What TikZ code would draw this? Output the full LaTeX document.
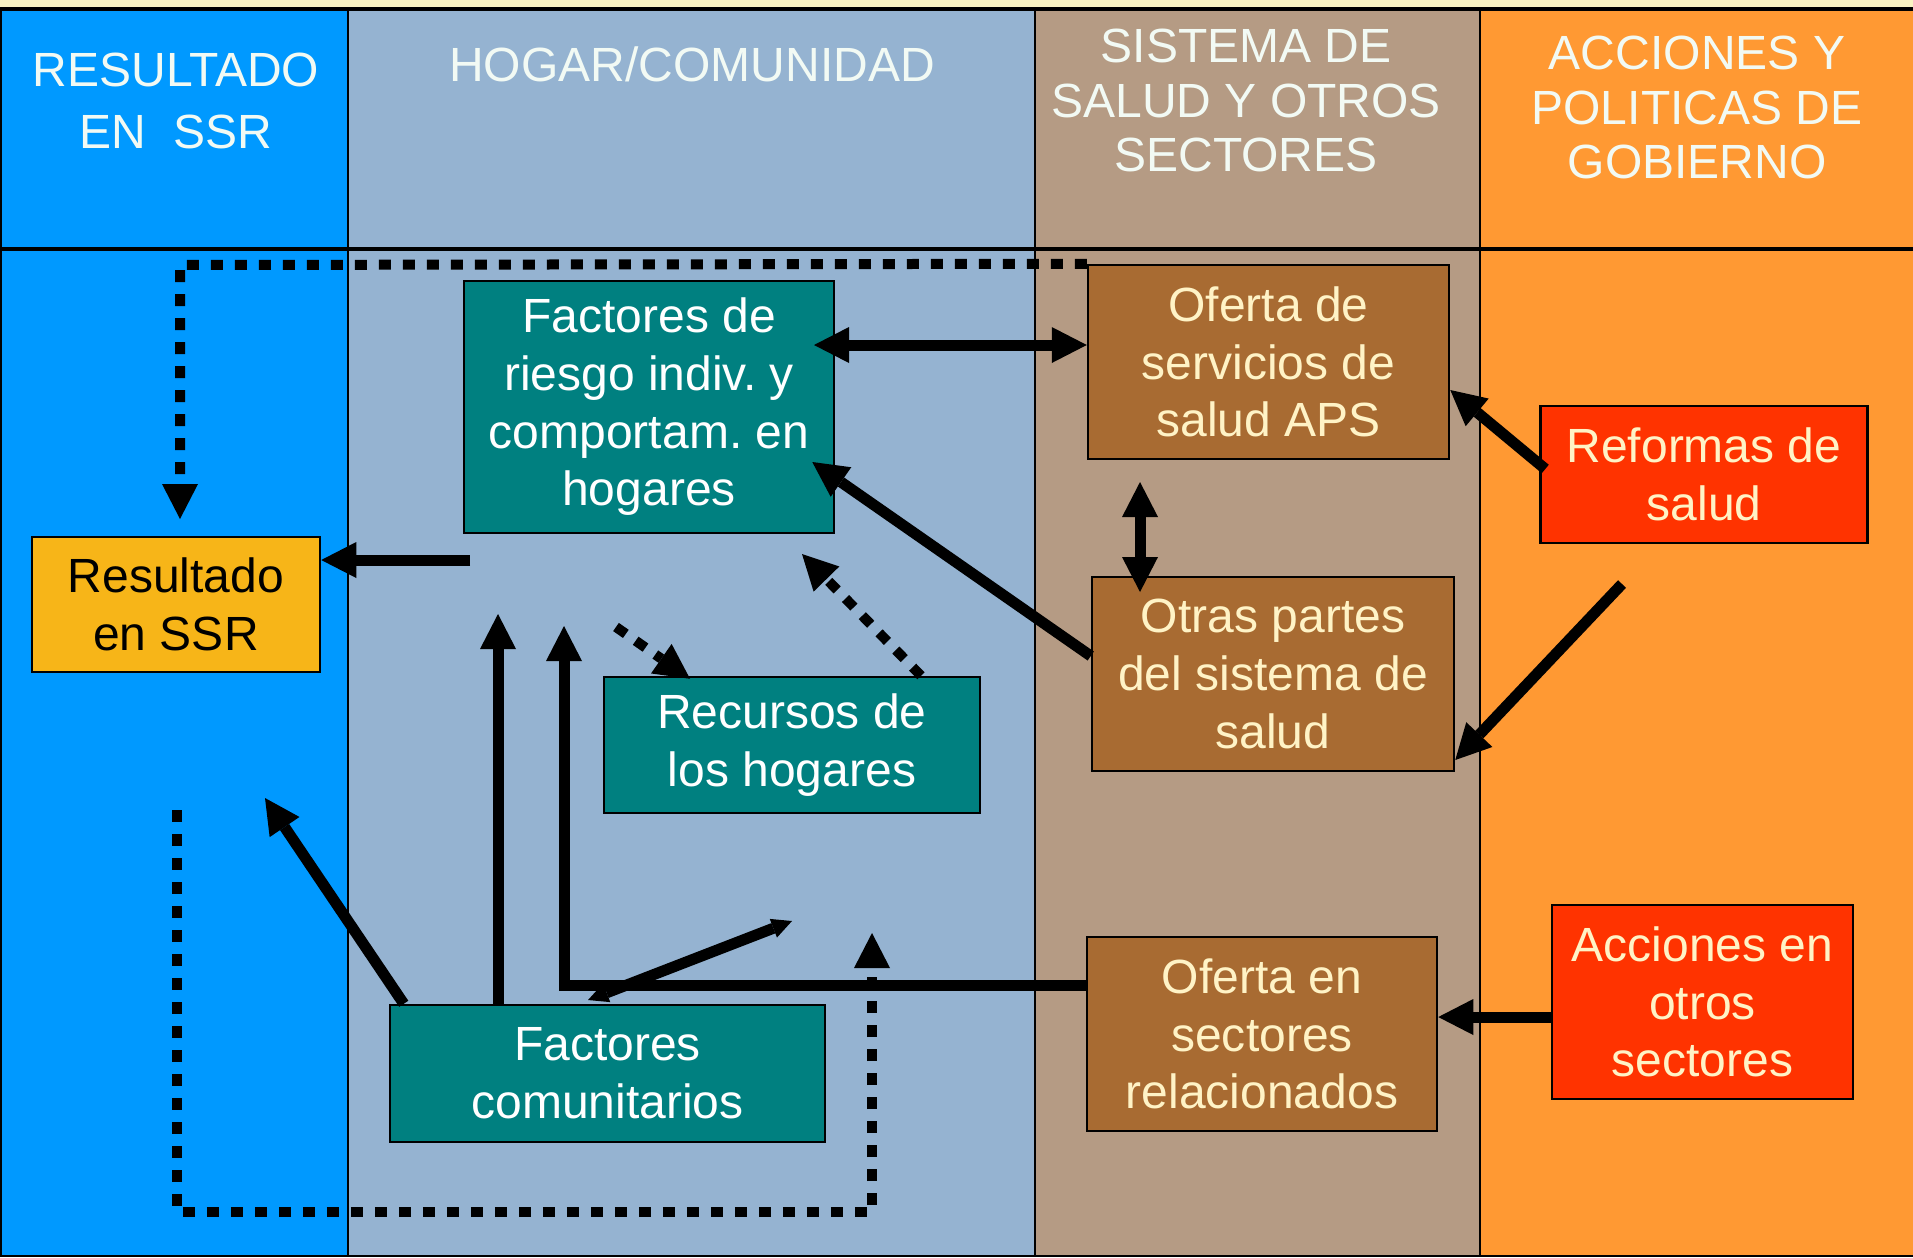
\documentclass[tikz,border=0pt]{standalone}
\usepackage{fontspec}
\setmainfont{Liberation Sans}
\usetikzlibrary{arrows.meta}
\frenchspacing

\definecolor{colres}{HTML}{0099FF}
\definecolor{colhog}{HTML}{95B3D1}
\definecolor{colsis}{HTML}{B59B84}
\definecolor{colgob}{HTML}{FF9933}
\definecolor{topstrip}{HTML}{FAF3C3}
\definecolor{boxyellow}{HTML}{F7B518}
\definecolor{boxteal}{HTML}{008080}
\definecolor{boxbrown}{HTML}{A86B32}
\definecolor{boxred}{HTML}{FF3300}
\definecolor{cream}{HTML}{FFF3C6}
\definecolor{pale}{HTML}{F2FAF4}

\tikzstyle{headtext}=[anchor=north, align=center, inner sep=0pt, text=pale]
\tikzstyle{boxnode}=[draw=black, line width=0.25mm, align=center, inner sep=0pt,
  font=\fontsize{13.66pt}{16.4pt}\selectfont]
\tikzstyle{tealbox}=[boxnode, fill=boxteal, text=white]
\tikzstyle{brownbox}=[boxnode, fill=boxbrown, text=cream]
\tikzstyle{redbox}=[boxnode, fill=boxred, text=cream]
\tikzstyle{arr}=[line width=1.1mm]
\tikzstyle{dotline}=[line width=1mm, dash pattern=on 1.2mm off 1.2mm]

\begin{document}
\begin{tikzpicture}[x=0.1mm, y=-0.1mm,
  >={Triangle[length=3.5mm, width=3.6mm, line width=0pt]}]
\useasboundingbox (0,0) rectangle (1913,1257);
% Columns
    \fill[topstrip] (0,0) rectangle (1913,9);
    \fill[colres] (0,9) rectangle (348,1257);
    \fill[colhog] (348,9) rectangle (1035,1257);
    \fill[colsis] (1035,9) rectangle (1480,1257);
    \fill[colgob] (1480,9) rectangle (1913,1257);
    \draw[line width=0.4mm] (0,9) -- (1913,9);
    \draw[line width=0.4mm] (0,249) -- (1913,249);
    \draw[line width=0.2mm] (0,1256) -- (1913,1256);
    \draw[line width=0.2mm] (1,9) -- (1,1257);
    \draw[line width=0.2mm] (348,9) -- (348,1257);
    \draw[line width=0.2mm] (1035,9) -- (1035,1257);
    \draw[line width=0.2mm] (1480,9) -- (1480,1257);
% Headings
    \node[headtext, font=\fontsize{13.66pt}{17.6pt}\selectfont] (hres) at (176,52) {RESULTADO\\EN\ \ SSR};
    \node[headtext, font=\fontsize{13.66pt}{17.6pt}\selectfont] (hhog) at (692,46) {HOGAR/COMUNIDAD};
    \node[headtext, font=\fontsize{13.66pt}{15.6pt}\selectfont] (hsis) at (1246,28) {SISTEMA DE\\SALUD Y OTROS\\SECTORES};
    \node[headtext, font=\fontsize{13.66pt}{15.6pt}\selectfont] (hgob) at (1697,35) {ACCIONES Y\\POLITICAS DE\\GOBIERNO};
% Boxes
    \node[boxnode, fill=boxyellow, minimum width=28.8mm, minimum height=13.5mm] (res) at (176,604.5) {Resultado\\en SSR};
    \node[tealbox, minimum width=37mm, minimum height=25.2mm] (riesgo) at (649,407) {Factores de\\riesgo indiv. y\\comportam. en\\hogares};
    \node[tealbox, minimum width=37.6mm, minimum height=13.6mm] (recursos) at (792,745) {Recursos de\\los hogares};
    \node[tealbox, minimum width=43.5mm, minimum height=13.7mm] (comun) at (607.5,1073.5) {Factores\\comunitarios};
    \node[brownbox, minimum width=36.1mm, minimum height=19.4mm] (aps) at (1268.5,362) {Oferta de\\servicios de\\salud APS};
    \node[brownbox, minimum width=36.2mm, minimum height=19.4mm] (otras) at (1273,674) {Otras partes\\del sistema de\\salud};
    \node[brownbox, minimum width=35mm, minimum height=19.4mm] (sect) at (1262,1034) {Oferta en\\sectores\\relacionados};
    \node[redbox, minimum width=32.7mm, minimum height=13.7mm] (reformas) at (1704,474.5) {Reformas de\\salud};
    \node[redbox, minimum width=30.1mm, minimum height=19.4mm] (acciones) at (1702.5,1002) {Acciones en\\otros\\sectores};
% Free ends
    \coordinate (dtop) at (180,265);
    \coordinate (dres) at (180,519);
    \coordinate (hres0) at (470,560);
    \coordinate (hrisk) at (814,345);
    \coordinate (vtop) at (1140,482);
    \coordinate (vbot) at (1140,592);
    \coordinate (rlow) at (1622,584);
    \coordinate (lcorner) at (564,626);
    \coordinate (ctip) at (498,614);
    \coordinate (ctipl) at (265,798);
    \coordinate (sa) at (588,1000);
    \coordinate (sb) at (792,921);
    \coordinate (da) at (616,627);
    \coordinate (db) at (802,554);
    \coordinate (la) at (177,810);
    \coordinate (lb) at (177,1212);
    \coordinate (lc) at (872,1212);
    \coordinate (ld) at (872,933);
% Solid arrows
    \draw[arr, ->] (hres0) -- (hres0 -| res.east);
    \draw[arr, <->] (hrisk) -- (hrisk -| aps.west);
    \draw[arr, <->] (vtop) -- (vbot);
    \draw[arr, ->] ([yshift=1.8mm]otras.west) -- ([xshift=-2.3mm, yshift=-5.5mm]riesgo.east);
    \draw[arr, ->] ([xshift=0.6mm, yshift=0.55mm]reformas.west) -- ([yshift=-2.8mm]aps.east);
    \draw[arr, ->] (rlow) -- ([yshift=-8.6mm]otras.east);
    \draw[arr, ->] ([yshift=-1.5mm]acciones.west) -- ([yshift=-1.5mm]acciones.west -| sect.east);
    \draw[arr, ->] ([yshift=4.9mm]sect.west) -| (lcorner);
    \draw[arr, ->] (comun.north -| ctip) -- (ctip);
    \draw[arr, ->] ([xshift=1.5mm]comun.north west) -- (ctipl);
    \draw[arr, {Triangle[length=2mm, width=2mm, line width=0pt]}-{Triangle[length=2mm, width=2mm, line width=0pt]}] (sa) -- (sb);
% Dotted arrows
    \draw[dotline, ->] (aps.north west) -- (dtop) -- (dres);
    \draw[dotline, ->] (da) -- ([xshift=-10.2mm, yshift=-0.3mm]recursos.north);
    \draw[dotline, ->] ([xshift=12.9mm]recursos.north) -- (db);
    \draw[dotline, ->] (la) -- (lb) -- (lc) -- (ld);
\end{tikzpicture}
\end{document}
